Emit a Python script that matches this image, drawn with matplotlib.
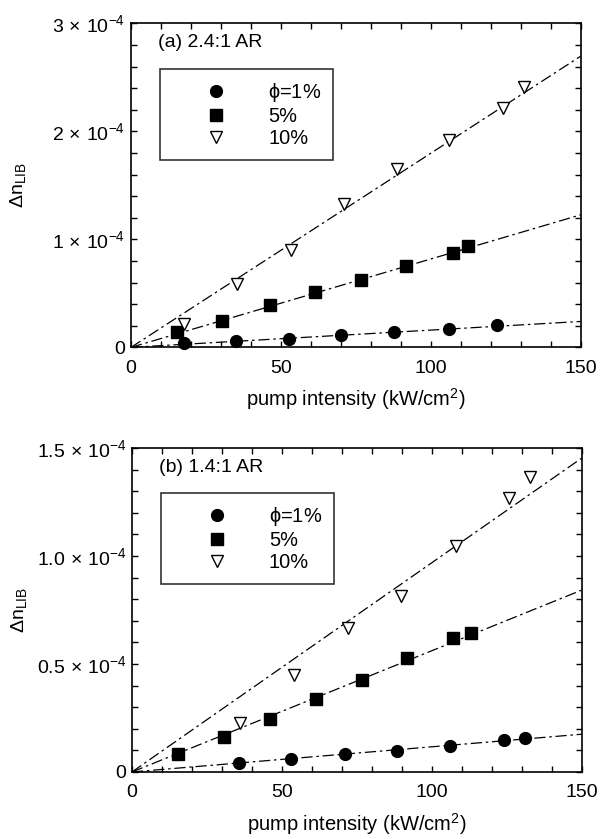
import numpy as np
import matplotlib
matplotlib.use("Agg")
import matplotlib.pyplot as plt
from matplotlib.ticker import MultipleLocator, FixedLocator, FixedFormatter

plt.rcParams["font.family"] = ["Liberation Sans", "DejaVu Sans"]
plt.rcParams["mathtext.fontset"] = "custom"
plt.rcParams["mathtext.rm"] = "Liberation Sans"
plt.rcParams["mathtext.it"] = "Liberation Sans:italic"
plt.rcParams["mathtext.bf"] = "Liberation Sans:bold"

# ---- data (Delta n in units of 1e-4, intensity in kW/cm^2) ----
# (a) 2.4:1 AR
a_x_1 = [17.7, 35.0, 52.5, 70.0, 87.5, 105.8, 122.1]
a_y_1 = [0.04, 0.058, 0.08, 0.11, 0.14, 0.167, 0.21]
a_x_5 = [15.2, 30.4, 46.3, 61.3, 76.6, 91.7, 107.4, 112.2]
a_y_5 = [0.142, 0.243, 0.389, 0.512, 0.627, 0.756, 0.873, 0.942]
a_x_10 = [17.8, 35.4, 53.2, 71.0, 88.5, 106.1, 124.0, 130.9]
a_y_10 = [0.22, 0.583, 0.898, 1.324, 1.655, 1.917, 2.219, 2.41]
a_fit_end = [0.24, 1.229, 2.70]   # fit value at 150 kW/cm^2 for 1%, 5%, 10%

# (b) 1.4:1 AR
b_x_1 = [35.6, 53.0, 71.0, 88.2, 106.0, 124.0, 130.8]
b_y_1 = [0.043, 0.062, 0.082, 0.097, 0.120, 0.148, 0.156]
b_x_5 = [15.2, 30.7, 46.0, 61.3, 76.5, 91.5, 107.1, 113.1]
b_y_5 = [0.082, 0.161, 0.247, 0.338, 0.428, 0.526, 0.619, 0.642]
b_x_10 = [36.0, 54.1, 72.0, 89.8, 108.0, 125.6, 132.6]
b_y_10 = [0.228, 0.45, 0.668, 0.816, 1.046, 1.267, 1.367]
b_fit_end = [0.175, 0.843, 1.455]

fit_x = [0.0, 150.0]
labels = [r"$\mathrm{\phi}$=1%", "5%", "10%"]

a_yticks = [0, 1, 2, 3]
a_yticklabels = ["0", r"1$\,\times\,$10$^{-4}$", r"2$\,\times\,$10$^{-4}$",
                 r"3$\,\times\,$10$^{-4}$"]
b_yticks = [0, 0.5, 1.0, 1.5]
b_yticklabels = ["0", r"0.5$\,\times\,$10$^{-4}$", r"1.0$\,\times\,$10$^{-4}$",
                 r"1.5$\,\times\,$10$^{-4}$"]

DASHDOT = (0, (9, 3, 2, 3))
TICK_FS = 14


def draw_panel(ax, series, fit_end, ymax, yticks, yticklabels, yminor, title):
    styles = [
        dict(marker="o", ms=8.5, mfc="black", mec="black"),
        dict(marker="s", ms=8.5, mfc="black", mec="black"),
        dict(marker="v", ms=9, mfc="white", mec="black", mew=1.0),
    ]
    for (xs, ys), end, st, lab in zip(series, fit_end, styles, labels):
        ax.plot(fit_x, [0.0, end], color="black", lw=0.9, ls=DASHDOT, zorder=1)
        ax.plot(xs, ys, ls="none", label=lab, zorder=3, clip_on=False, **st)

    ax.set_xlim(0, 150)
    ax.set_ylim(0, ymax)
    ax.xaxis.set_major_locator(MultipleLocator(50))
    ax.xaxis.set_minor_locator(MultipleLocator(10))
    ax.yaxis.set_major_locator(FixedLocator(yticks))
    ax.yaxis.set_major_formatter(FixedFormatter(yticklabels))
    ax.yaxis.set_minor_locator(MultipleLocator(yminor))
    ax.tick_params(which="both", direction="in", top=True, right=True,
                   labelsize=TICK_FS, width=1.0)
    ax.tick_params(which="major", length=4.5)
    ax.tick_params(which="minor", length=4)
    ax.tick_params(axis="x", pad=9)
    ax.tick_params(axis="y", pad=4)
    for sp in ax.spines.values():
        sp.set_linewidth(1.2)

    ax.set_xlabel(r"pump intensity (kW/cm$^2$)", fontsize=14.5, labelpad=7)
    ax.set_ylabel(r"$\Delta$n$_{\mathrm{LIB}}$", fontsize=14)
    ax.yaxis.set_label_coords(-0.229, 0.5)
    ax.text(0.06, 0.94, title, transform=ax.transAxes, fontsize=14,
            ha="left", va="center")

    leg = ax.legend(loc="upper left", bbox_to_anchor=(0.0644, 0.861),
                    borderaxespad=0, frameon=True, fancybox=False,
                    edgecolor="black", fontsize=14.4, handlelength=4.4,
                    handletextpad=0.4, borderpad=0.6, labelspacing=0.15,
                    numpoints=1)
    leg.get_frame().set_linewidth(1.2)


fig = plt.figure(figsize=(6.01, 8.39), dpi=100)
ax_a = fig.add_axes([0.218, 0.586, 0.749, 0.386])
ax_b = fig.add_axes([0.2196, 0.0799, 0.749, 0.386])

draw_panel(ax_a, [(a_x_1, a_y_1), (a_x_5, a_y_5), (a_x_10, a_y_10)], a_fit_end,
           3.0, a_yticks, a_yticklabels, 0.2, "(a) 2.4:1 AR")
draw_panel(ax_b, [(b_x_1, b_y_1), (b_x_5, b_y_5), (b_x_10, b_y_10)], b_fit_end,
           1.5, b_yticks, b_yticklabels, 0.1, "(b) 1.4:1 AR")

fig.savefig("out.png", dpi=100)
